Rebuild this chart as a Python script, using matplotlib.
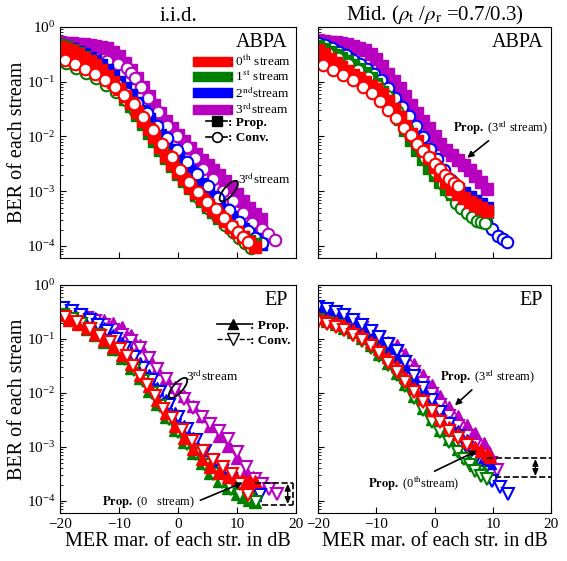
import numpy as np
import matplotlib
matplotlib.use('Agg')
import matplotlib.pyplot as plt
from matplotlib.lines import Line2D
from matplotlib.patches import Ellipse

plt.rcParams['font.family'] = 'Liberation Serif'
plt.rcParams['mathtext.fontset'] = 'stix'

# stream colours: 0th, 1st, 2nd, 3rd
colors = ['#ff0000', '#008000', '#0000ff', '#b800c0']

# ---- values: x = MER margin [dB], y = log10(BER) ----

# i.i.d. / ABPA
tl_x_prop01 = [-20, -19, -18, -17, -16, -15, -14, -13, -12, -11, -10, -9, -8, -7, -6, -5, -4, -3, -2, -1,
               0, 1, 2, 3, 4, 5, 6, 7, 8, 9, 10, 11, 12, 13]
tl_x_prop23 = [-20, -19, -18, -17, -16, -15, -14, -13, -12, -11, -10, -9, -8, -7, -6, -5, -4, -3, -2, -1,
               0, 1, 2, 3, 4, 5, 6, 7, 8, 9, 10, 11, 12, 13, 14]
tl_prop0 = [-0.36, -0.40, -0.44, -0.49, -0.56, -0.63, -0.70, -0.79, -0.89, -1.00, -1.13, -1.26, -1.39, -1.55,
            -1.71, -1.86, -2.01, -2.19, -2.36, -2.50, -2.64, -2.78, -2.92, -3.03, -3.14, -3.25, -3.35, -3.45,
            -3.55, -3.65, -3.74, -3.84, -3.93, -4.02]
tl_prop1 = [-0.33, -0.37, -0.42, -0.48, -0.55, -0.63, -0.71, -0.81, -0.92, -1.04, -1.17, -1.31, -1.45, -1.61,
            -1.77, -1.93, -2.08, -2.24, -2.40, -2.54, -2.68, -2.81, -2.94, -3.06, -3.17, -3.28, -3.38, -3.48,
            -3.57, -3.66, -3.75, -3.83, -3.90, -3.97]
tl_prop2 = [-0.34, -0.37, -0.41, -0.45, -0.50, -0.56, -0.63, -0.70, -0.79, -0.89, -1.00, -1.12, -1.25, -1.39,
            -1.53, -1.68, -1.83, -1.97, -2.11, -2.25, -2.38, -2.51, -2.63, -2.75, -2.87, -2.99, -3.11, -3.23,
            -3.35, -3.47, -3.58, -3.69, -3.79, -3.88, -3.97]
tl_prop3 = [-0.28, -0.29, -0.30, -0.31, -0.32, -0.33, -0.35, -0.37, -0.39, -0.45, -0.53, -0.65, -0.78, -0.93,
            -1.09, -1.26, -1.42, -1.57, -1.72, -1.85, -1.98, -2.09, -2.21, -2.32, -2.43, -2.53, -2.62, -2.71,
            -2.81, -2.93, -3.05, -3.17, -3.30, -3.41, -3.51]
tl_x_conv0 = [-19.2, -17.5, -15.8, -14.1, -12.4, -10.7, -9.1, -7.5, -5.9, -4.3, -2.7, -1.1, 0.4, 1.9, 3.4,
              4.9, 6.4, 7.8, 9.1, 10.2, 11.1, 11.9]
tl_conv0 = [-0.60, -0.68, -0.77, -0.86, -0.97, -1.09, -1.24, -1.41, -1.65, -1.88, -2.14, -2.37, -2.61, -2.83,
            -3.01, -3.19, -3.33, -3.49, -3.63, -3.74, -3.83, -3.93]
tl_x_conv1 = [-19.0, -17.3, -15.6, -13.9, -12.2, -10.5, -8.9, -7.3, -5.7, -4.1, -2.5, -0.9, 0.6, 2.1, 3.6,
              5.1, 6.6, 8.0, 9.3, 10.4, 11.4, 12.3]
tl_conv1 = [-0.66, -0.75, -0.84, -0.94, -1.06, -1.19, -1.34, -1.53, -1.76, -2.00, -2.26, -2.50, -2.73, -2.94,
            -3.13, -3.30, -3.46, -3.61, -3.74, -3.85, -3.94, -4.03]
tl_x_conv2 = [-19.2, -17.4, -15.6, -13.8, -12.0, -10.3, -8.6, -6.9, -5.2, -3.5, -1.8, -0.1, 1.6, 3.3, 5.0,
              6.8, 8.6, 10.3, 11.8, 13.0, 14.2]
tl_conv2 = [-0.50, -0.58, -0.67, -0.78, -0.90, -1.04, -1.20, -1.38, -1.58, -1.80, -2.03, -2.25, -2.47, -2.69,
            -2.90, -3.12, -3.35, -3.56, -3.73, -3.85, -3.95]
tl_x_conv3 = [-20, -18, -16, -14, -12, -10.2, -8.6, -7.9, -7.3, -6.2, -5.1, -3.4, -1.9, -0.2, 1.5, 2.9, 4.2,
              5.9, 7.6, 9.3, 11.0, 12.5, 14.2, 15.3, 16.4]
tl_conv3 = [-0.40, -0.45, -0.50, -0.56, -0.62, -0.68, -0.75, -0.85, -0.94, -1.10, -1.30, -1.56, -1.80, -2.00,
            -2.20, -2.40, -2.59, -2.77, -2.99, -3.17, -3.39, -3.58, -3.69, -3.78, -3.89]

# Mid. / ABPA
tr_x_prop = [-20, -19, -18, -17, -16, -15, -14, -13, -12, -11, -10, -9, -8, -7, -6, -5, -4, -3, -2, -1,
             0, 1, 2, 3, 4, 5, 6, 7, 8, 9]
tr_prop0 = [-0.42, -0.50, -0.58, -0.66, -0.73, -0.80, -0.87, -0.94, -1.00, -1.07, -1.14, -1.23, -1.35, -1.49,
            -1.64, -1.80, -1.95, -2.09, -2.24, -2.39, -2.55, -2.70, -2.84, -2.96, -3.05, -3.13, -3.20, -3.26,
            -3.31, -3.36]
tr_prop1 = [-0.35, -0.40, -0.45, -0.51, -0.57, -0.63, -0.69, -0.76, -0.84, -0.94, -1.05, -1.18, -1.33, -1.50,
            -1.68, -1.88, -2.07, -2.25, -2.42, -2.57, -2.71, -2.84, -2.95, -3.05, -3.13, -3.20, -3.26, -3.31,
            -3.35, -3.38]
tr_prop2 = [-0.33, -0.37, -0.42, -0.47, -0.53, -0.59, -0.66, -0.73, -0.81, -0.90, -1.00, -1.12, -1.26, -1.41,
            -1.57, -1.74, -1.91, -2.07, -2.23, -2.39, -2.54, -2.67, -2.78, -2.88, -2.96, -3.04, -3.11, -3.18,
            -3.24, -3.30]
tr_prop3 = [-0.24, -0.25, -0.27, -0.28, -0.30, -0.32, -0.35, -0.38, -0.43, -0.49, -0.58, -0.72, -0.86, -0.98,
            -1.11, -1.26, -1.42, -1.57, -1.71, -1.85, -1.99, -2.13, -2.24, -2.34, -2.43, -2.52, -2.62, -2.72,
            -2.84, -2.96]
tr_x_conv0 = [-19.1, -17.4, -15.7, -14.0, -12.3, -10.7, -9.4, -8.0, -6.6, -5.3, -4.1, -3.0, -2.0, -1.0, 0.0,
              0.9, 1.7, 2.5, 3.3, 4.0]
tr_conv0 = [-0.70, -0.79, -0.88, -0.97, -1.10, -1.21, -1.36, -1.52, -1.67, -1.84, -1.98, -2.13, -2.26, -2.38,
            -2.50, -2.60, -2.70, -2.78, -2.85, -2.90]
tr_x_conv1 = [-20, -18.3, -16.6, -14.9, -13.2, -11.5, -9.8, -8.1, -6.4, -4.7, -3.1, -1.6, 0.0, 1.5, 2.6, 3.6,
              4.6, 5.6, 6.5, 7.3, 8.0, 8.7]
tr_conv1 = [-0.40, -0.48, -0.57, -0.67, -0.78, -0.91, -1.07, -1.27, -1.54, -1.85, -2.14, -2.40, -2.64, -2.86,
            -3.04, -3.21, -3.31, -3.39, -3.47, -3.54, -3.57, -3.58]
tr_x_conv2 = [-20, -18.8, -17.6, -16.4, -15.2, -14, -12.8, -11.6, -10.4, -9.2, -8, -6.8, -5.6, -4.4, -3.2, -2,
              -0.8, 0.4, 1.6, 2.8, 4.0, 5.2, 6.4, 7.6, 8.8, 9.9, 10.9, 11.7, 12.4]
tr_conv2 = [-0.30, -0.33, -0.38, -0.45, -0.52, -0.60, -0.67, -0.76, -0.86, -0.97, -1.11, -1.29, -1.47, -1.62,
            -1.80, -2.01, -2.22, -2.42, -2.61, -2.80, -2.98, -3.15, -3.30, -3.44, -3.57, -3.69, -3.82, -3.88,
            -3.93]

# i.i.d. / EP
bl_x_prop012 = [-20, -18.5, -17, -15.5, -14, -12.5, -11, -9.5, -8, -6.5, -5, -3.5, -2, -0.5, 1, 2.5, 4, 5.5,
                7, 8.5, 10, 11, 12, 13]
bl_prop0 = [-0.56, -0.64, -0.72, -0.80, -0.90, -1.01, -1.14, -1.29, -1.46, -1.66, -1.88, -2.13, -2.38, -2.62,
            -2.84, -3.04, -3.22, -3.37, -3.48, -3.55, -3.59, -3.61, -3.63, -3.64]
bl_prop1 = [-0.53, -0.62, -0.71, -0.81, -0.92, -1.05, -1.19, -1.35, -1.53, -1.73, -1.96, -2.20, -2.44, -2.68,
            -2.90, -3.11, -3.30, -3.48, -3.63, -3.76, -3.87, -3.93, -3.98, -4.02]
bl_prop2 = [-0.42, -0.47, -0.53, -0.60, -0.69, -0.80, -0.93, -1.08, -1.25, -1.44, -1.66, -1.90, -2.14, -2.38,
            -2.62, -2.84, -3.05, -3.24, -3.41, -3.56, -3.69, -3.77, -3.84, -3.90]
bl_x_prop3 = [-20, -18.5, -17, -15.5, -14, -12.5, -11, -9.5, -8, -6.5, -5, -3.5, -2, -0.5, 1, 2.5, 4, 5.5,
              7, 8.5, 10, 11.5, 12.7]
bl_prop3 = [-0.45, -0.49, -0.53, -0.57, -0.61, -0.65, -0.70, -0.78, -0.92, -1.11, -1.33, -1.55, -1.73, -1.89,
            -2.06, -2.24, -2.43, -2.61, -2.79, -2.98, -3.21, -3.44, -3.56]
bl_x_conv0 = [-19.2, -17.1, -14.9, -13.2, -11.5, -9.8, -8.6, -7.6, -6.4, -5.3, -3.9, -2.5, -1.0, 0.7, 2.4,
              4.2, 5.9, 7.6, 9.2, 10.5, 11.9]
bl_conv0 = [-0.60, -0.69, -0.82, -0.95, -1.06, -1.19, -1.32, -1.50, -1.68, -1.86, -2.05, -2.29, -2.47, -2.69,
            -2.89, -3.07, -3.24, -3.38, -3.51, -3.69, -3.89]
bl_x_conv1 = [-19.5, -18, -16.5, -15, -13.5, -12, -10.5, -9, -7.5, -6, -4.5, -3, -1.5, 0, 1.5, 3, 4.5, 6,
              7.5, 9, 10.5, 12, 13.2]
bl_conv1 = [-0.55, -0.63, -0.72, -0.82, -0.93, -1.06, -1.21, -1.38, -1.57, -1.78, -2.01, -2.25, -2.49, -2.72,
            -2.94, -3.14, -3.33, -3.50, -3.65, -3.78, -3.89, -3.97, -4.03]
bl_x_conv2 = [-19.5, -18, -16.5, -15, -13.5, -12, -10.5, -9, -7.5, -6, -4.5, -3, -1.5, 0, 1.5, 3, 4.5, 6,
              7.5, 9, 10.5, 12, 13.9]
bl_conv2 = [-0.43, -0.49, -0.56, -0.64, -0.74, -0.86, -1.00, -1.16, -1.34, -1.54, -1.76, -1.99, -2.22, -2.45,
            -2.67, -2.88, -3.08, -3.27, -3.44, -3.60, -3.73, -3.83, -3.89]
bl_x_conv3 = [-20, -18.5, -17, -15.5, -14, -12.5, -11, -9.5, -8, -6.5, -5, -3.5, -2, -0.5, 1, 2.5, 4, 5.5,
              7, 8.5, 10, 11.5, 13, 14.2, 15.5, 16.8]
bl_conv3 = [-0.47, -0.51, -0.56, -0.61, -0.67, -0.74, -0.83, -0.93, -1.03, -1.17, -1.35, -1.55, -1.75, -1.95,
            -2.12, -2.28, -2.44, -2.58, -2.70, -2.86, -3.10, -3.38, -3.59, -3.68, -3.78, -3.87]

# Mid. / EP
br_x_prop0 = [-20, -18.5, -17, -15.5, -14, -12.5, -11, -9.5, -8, -6.5, -5, -3.5, -2, -0.5, 1, 2.5, 4, 5.5,
              7, 8, 9, 9.5]
br_prop0 = [-0.60, -0.64, -0.68, -0.74, -0.83, -0.93, -1.05, -1.19, -1.33, -1.50, -1.70, -1.91, -2.11, -2.31,
            -2.48, -2.63, -2.77, -2.89, -3.00, -3.07, -3.14, -3.18]
br_x_prop1 = [-20, -18.5, -17, -15.5, -14, -12.5, -11, -9.5, -8, -6.5, -5, -3.5, -2, -0.5, 1, 2.5, 4, 5.5,
              7, 8.5]
br_prop1 = [-0.62, -0.67, -0.72, -0.79, -0.88, -0.99, -1.12, -1.27, -1.44, -1.63, -1.84, -2.06, -2.27, -2.48,
            -2.68, -2.86, -3.03, -3.19, -3.33, -3.45]
br_x_prop2 = [-20, -18.5, -17, -15.5, -14, -12.5, -11, -9.5, -8, -6.5, -5, -3.5, -2, -0.5, 1, 2.5, 4, 5.5,
              7, 8.5, 9.5]
br_prop2 = [-0.42, -0.47, -0.53, -0.60, -0.69, -0.79, -0.90, -1.03, -1.17, -1.33, -1.52, -1.73, -1.94, -2.14,
            -2.34, -2.53, -2.71, -2.88, -3.04, -3.20, -3.30]
br_x_prop3 = [-20, -18.5, -17, -15.5, -14, -12.5, -11, -9.5, -8, -6.5, -5, -3.5, -2, -0.5, 1, 2.5, 4, 5.5,
              7, 8.5, 9.3]
br_prop3 = [-0.42, -0.46, -0.51, -0.57, -0.65, -0.74, -0.85, -0.97, -1.05, -1.12, -1.27, -1.47, -1.66, -1.85,
            -2.06, -2.26, -2.43, -2.60, -2.75, -2.93, -3.10]
br_x_conv0 = [-20, -18.5, -17, -15.5, -14, -12.5, -11, -9.5, -8, -6.5, -5, -3.5, -2, -0.5, 1, 2.5, 4, 5.5]
br_conv0 = [-0.68, -0.72, -0.77, -0.83, -0.92, -1.02, -1.13, -1.26, -1.44, -1.62, -1.80, -1.99, -2.17, -2.34,
            -2.53, -2.71, -2.84, -2.96]
br_x_conv1 = [-20, -18.5, -17, -15.5, -14, -12.5, -11, -9.5, -8, -6.5, -5, -3.5, -2, -0.5, 1, 2.5, 4, 5, 6,
              7, 8, 9]
br_conv1 = [-0.65, -0.70, -0.76, -0.83, -0.92, -1.03, -1.16, -1.31, -1.48, -1.67, -1.88, -2.10, -2.32, -2.53,
            -2.73, -2.91, -3.09, -3.22, -3.34, -3.45, -3.54, -3.60]
br_x_conv2 = [-20, -18.5, -17, -15.5, -14, -12.5, -11, -9.5, -8, -6.5, -5, -3.5, -2, -0.5, 1, 2.5, 4, 5.5,
              7, 8.5, 9.8, 11.2, 12.6]
br_conv2 = [-0.40, -0.45, -0.50, -0.56, -0.64, -0.74, -0.85, -0.97, -1.09, -1.23, -1.43, -1.68, -1.90, -2.13,
            -2.35, -2.57, -2.80, -3.02, -3.24, -3.47, -3.64, -3.75, -3.87]
br_x_conv3 = [-20, -18.5, -17, -15.5, -14, -12.5, -11, -9.5, -8, -6.5, -5, -3.5, -2, -0.5, 1, 2.5, 4, 5.5,
              7, 8.5, 9.7, 10.7]
br_conv3 = [-0.48, -0.53, -0.58, -0.64, -0.71, -0.79, -0.88, -0.99, -1.11, -1.25, -1.42, -1.62, -1.82, -2.02,
            -2.22, -2.42, -2.61, -2.79, -2.97, -3.15, -3.30, -3.42]

stream_labels = [': 0$^{\\mathrm{th}}$ stream', ': 1$^{\\mathrm{st}}$ stream',
                 ': 2$^{\\mathrm{nd}}$stream', ': 3$^{\\mathrm{rd}}$stream']

YMIN = 10 ** -4.22


def drawCurves(ax, curves, markProp, markConv, ms):
    # 3rd stream first so the 0th stream ends up on top
    for s in [3, 2, 1, 0]:
        xp, yp, xc, yc = curves[s]
        ax.plot(xp, 10.0 ** np.array(yp), '-', color=colors[s], lw=1, marker=markProp, ms=ms,
                mfc=colors[s], mec=colors[s])
        if xc is not None:
            ax.plot(xc, 10.0 ** np.array(yc), '--', color=colors[s], lw=1, marker=markConv, ms=ms,
                    mfc='white', mec=colors[s], mew=1.5)


def setupAxes(ax, leftLabels, bottomLabels):
    ax.set_yscale('log')
    ax.set_xlim(-20, 20)
    ax.set_ylim(YMIN, 1)
    ax.set_xticks([-20, -10, 0, 10, 20])
    ax.tick_params(which='major', direction='in', length=4, labelsize=11)
    ax.tick_params(which='minor', direction='in', length=2)
    ax.tick_params(labelleft=leftLabels, labelbottom=bottomLabels)
    if leftLabels:
        ax.set_ylabel('BER of each stream', fontsize=14.5, labelpad=0)
    if bottomLabels:
        ax.set_xlabel('MER mar. of each str. in dB', fontsize=14.5, labelpad=1)


def ellipseMark(ax, cx, cy):
    ax.add_patch(Ellipse((cx, cy), 0.11, 0.042, angle=50, transform=ax.transAxes,
                         fill=False, ec='k', lw=1.3, zorder=5))


def dashedBracket(ax, x0top, x0bot, x1, ytop, ybot, xarrow, vline):
    ax.plot([x0top, x1], [ytop, ytop], 'k--', lw=1.2, zorder=5)
    ax.plot([x0bot, x1], [ybot, ybot], 'k--', lw=1.2, zorder=5)
    if vline:
        ax.plot([x1, x1], [ytop, ybot], 'k--', lw=1.2, zorder=5)
    ax.annotate('', xy=(xarrow, ytop * 0.95), xytext=(xarrow, ybot * 1.05),
                arrowprops=dict(arrowstyle='<|-|>,head_length=0.5,head_width=0.22', color='k',
                                lw=1, mutation_scale=8, shrinkA=0, shrinkB=0))


fig = plt.figure(figsize=(5.67, 5.61), dpi=100)
ax_tl = fig.add_axes([0.106, 0.540, 0.416, 0.412])
ax_tr = fig.add_axes([0.561, 0.540, 0.411, 0.412])
ax_bl = fig.add_axes([0.106, 0.086, 0.416, 0.406])
ax_br = fig.add_axes([0.561, 0.086, 0.411, 0.406])

drawCurves(ax_tl, [(tl_x_prop01, tl_prop0, tl_x_conv0, tl_conv0),
                   (tl_x_prop01, tl_prop1, tl_x_conv1, tl_conv1),
                   (tl_x_prop23, tl_prop2, tl_x_conv2, tl_conv2),
                   (tl_x_prop23, tl_prop3, tl_x_conv3, tl_conv3)], 's', 'o', 8.3)
drawCurves(ax_tr, [(tr_x_prop, tr_prop0, tr_x_conv0, tr_conv0),
                   (tr_x_prop, tr_prop1, tr_x_conv1, tr_conv1),
                   (tr_x_prop, tr_prop2, tr_x_conv2, tr_conv2),
                   (tr_x_prop, tr_prop3, None, None)], 's', 'o', 8.3)
drawCurves(ax_bl, [(bl_x_prop012, bl_prop0, bl_x_conv0, bl_conv0),
                   (bl_x_prop012, bl_prop1, bl_x_conv1, bl_conv1),
                   (bl_x_prop012, bl_prop2, bl_x_conv2, bl_conv2),
                   (bl_x_prop3, bl_prop3, bl_x_conv3, bl_conv3)], '^', 'v', 9)
drawCurves(ax_br, [(br_x_prop0, br_prop0, br_x_conv0, br_conv0),
                   (br_x_prop1, br_prop1, br_x_conv1, br_conv1),
                   (br_x_prop2, br_prop2, br_x_conv2, br_conv2),
                   (br_x_prop3, br_prop3, br_x_conv3, br_conv3)], '^', 'v', 9)

setupAxes(ax_tl, True, False)
setupAxes(ax_tr, False, False)
setupAxes(ax_bl, True, True)
setupAxes(ax_br, False, True)

ax_tl.set_title('i.i.d.', fontsize=15, pad=4)
ax_tr.set_title('Mid. ($\\rho_{\\mathrm{t}}$ /$\\rho_{\\mathrm{r}}$ =0.7/0.3)', fontsize=15, pad=4)

for ax, name in [(ax_tl, 'ABPA'), (ax_tr, 'ABPA'), (ax_bl, 'EP'), (ax_br, 'EP')]:
    ax.text(0.965, 0.975, name, transform=ax.transAxes, ha='right', va='top', fontsize=14.5)

# legends of the i.i.d. ABPA panel: stream colours, then the two methods
handles = [Line2D([], [], color=c, lw=7.5) for c in colors]
leg = ax_tl.legend(handles, stream_labels, loc='upper right', bbox_to_anchor=(1.0, 0.905),
                   frameon=False, fontsize=9.5, handlelength=2.3, handletextpad=0.05,
                   labelspacing=0.05, borderaxespad=0.0)
ax_tl.add_artist(leg)
handles = [Line2D([], [], color='k', lw=1.2, marker='s', ms=7),
           Line2D([], [], color='k', lw=1.2, marker='o', ms=7, mfc='white', mew=1.2)]
leg = ax_tl.legend(handles, [': Prop.', ': Conv.'], loc='upper right', bbox_to_anchor=(0.905, 0.635),
                   frameon=False, fontsize=9.5, handlelength=1.6, handletextpad=0.05,
                   labelspacing=0.25, borderaxespad=0.0)
for t in leg.get_texts():
    t.set_fontweight('bold')

# legend of the i.i.d. EP panel
handles = [Line2D([], [], color='k', lw=1.2, marker='^', ms=7),
           Line2D([], [], color='k', lw=1.0, ls='--', marker='v', ms=8, mfc='white', mew=1.0)]
leg = ax_bl.legend(handles, [': Prop.', ': Conv.'], loc='upper right', bbox_to_anchor=(1.0, 0.87),
                   frameon=False, fontsize=9.5, handlelength=2.5, handletextpad=0.05,
                   labelspacing=0.2, borderaxespad=0.0)
for t in leg.get_texts():
    t.set_fontweight('bold')

# annotations
ellipseMark(ax_tl, 0.715, 0.29)
ax_tl.text(10.2, 10 ** -2.78, '3$^{\\mathrm{rd}}$stream', fontsize=9.5, ha='left', va='center')

ax_tr.annotate('$\\mathbf{Prop.}$ (3$^{\\mathrm{rd}}$ stream)', xy=(5.6, 10 ** -2.39),
               xytext=(3.2, 10 ** -1.84), fontsize=9, ha='left', va='center',
               arrowprops=dict(arrowstyle='-|>', color='k', lw=1.2, mutation_scale=9,
                               relpos=(0.42, 0.0), shrinkA=1, shrinkB=0))

ellipseMark(ax_bl, 0.5, 0.548)
ax_bl.text(1.4, 10 ** -1.68, '3$^{\\mathrm{rd}}$stream', fontsize=9.5, ha='left', va='center')
ax_bl.annotate('$\\mathbf{Prop.}$ (0   stream)', xy=(11.0, 10 ** -3.66), xytext=(-12.9, 10 ** -4.03),
               fontsize=9, ha='left', va='center',
               arrowprops=dict(arrowstyle='-|>', color='k', lw=1.2, mutation_scale=9,
                               relpos=(1.0, 0.5), shrinkA=2, shrinkB=0))
dashedBracket(ax_bl, 13.0, 14.2, 19.5, 10 ** -3.66, 10 ** -4.08, 18.6, True)

ax_br.annotate('$\\mathbf{Prop.}$ (3$^{\\mathrm{rd}}$ stream)', xy=(3.5, 10 ** -2.23),
               xytext=(0.9, 10 ** -1.70), fontsize=9, ha='left', va='center',
               arrowprops=dict(arrowstyle='-|>', color='k', lw=1.2, mutation_scale=9,
                               relpos=(0.38, 0.0), shrinkA=1, shrinkB=0))
ax_br.annotate('$\\mathbf{Prop.}$ (0$^{\\mathrm{th}}$stream)', xy=(7.3, 10 ** -3.07),
               xytext=(-11.4, 10 ** -3.68), fontsize=9, ha='left', va='center',
               arrowprops=dict(arrowstyle='-|>', color='k', lw=1.2, mutation_scale=9,
                               relpos=(0.65, 1.0), shrinkA=1, shrinkB=0))
dashedBracket(ax_br, 9.0, 10.4, 20.0, 10 ** -3.2, 10 ** -3.56, 17.3, False)

fig.savefig('out.png', dpi=100)
